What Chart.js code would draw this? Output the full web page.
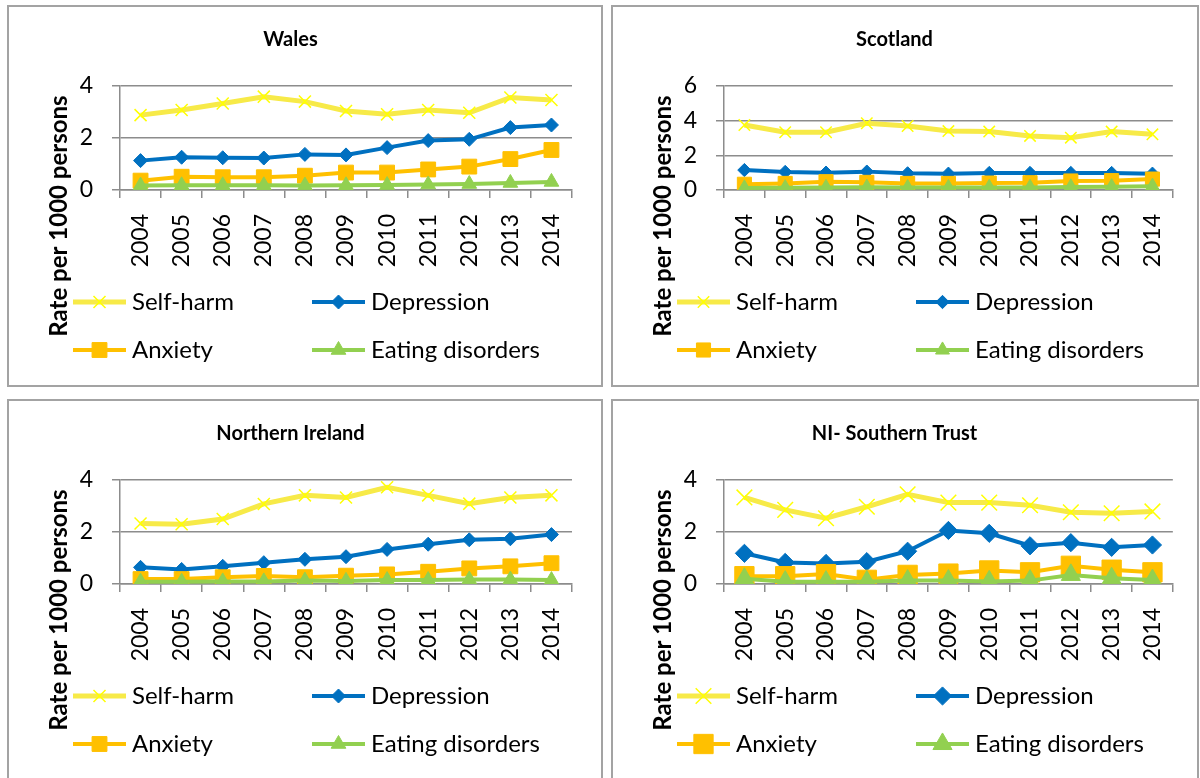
<!DOCTYPE html>
<html>
<head>
<meta charset="utf-8">
<script src="https://cdn.jsdelivr.net/npm/chart.js@4.4.0/dist/chart.umd.min.js"></script>
<style>
    html, body { margin: 0; padding: 0; background: #fff; overflow: hidden; }
    body { width: 1200px; height: 778px; position: relative; }
    .panel { position: absolute; border: 2px solid #a3a3a3; background: #fff; }
    .panel canvas { display: block; }
</style>
</head>
<body>
<div class="panel" style="left:7px; top:5px;"><canvas id="wales" width="592" height="378"></canvas></div>
<div class="panel" style="left:611px; top:5px;"><canvas id="scotland" width="584" height="378"></canvas></div>
<div class="panel" style="left:7px; top:399px;"><canvas id="ni" width="592" height="378"></canvas></div>
<div class="panel" style="left:611px; top:399px;"><canvas id="southern" width="584" height="378"></canvas></div>

<script>
// values, rate per 1000 persons
const years = ['2004', '2005', '2006', '2007', '2008', '2009', '2010', '2011', '2012', '2013', '2014'];
const seriesNames = ['Self-harm', 'Depression', 'Anxiety', 'Eating disorders'];

const walesSelfHarm = [2.88, 3.08, 3.33, 3.59, 3.40, 3.04, 2.91, 3.08, 2.97, 3.56, 3.46];
const walesDepression = [1.13, 1.26, 1.24, 1.23, 1.37, 1.35, 1.63, 1.90, 1.95, 2.40, 2.50];
const walesAnxiety = [0.36, 0.51, 0.49, 0.49, 0.55, 0.67, 0.67, 0.79, 0.90, 1.19, 1.54];
const walesEating = [0.17, 0.18, 0.18, 0.18, 0.17, 0.18, 0.19, 0.21, 0.23, 0.27, 0.31];

const scotlandSelfHarm = [3.75, 3.33, 3.33, 3.85, 3.69, 3.40, 3.37, 3.12, 3.02, 3.37, 3.21];
const scotlandDepression = [1.15, 1.04, 1.00, 1.06, 0.96, 0.94, 0.98, 0.98, 0.98, 0.98, 0.94];
const scotlandAnxiety = [0.33, 0.38, 0.48, 0.44, 0.38, 0.38, 0.40, 0.42, 0.52, 0.54, 0.63];
const scotlandEating = [0.12, 0.13, 0.15, 0.16, 0.14, 0.14, 0.15, 0.15, 0.18, 0.19, 0.22];

const niSelfHarm = [2.33, 2.30, 2.50, 3.08, 3.41, 3.33, 3.72, 3.41, 3.09, 3.33, 3.41];
const niDepression = [0.64, 0.56, 0.68, 0.82, 0.95, 1.05, 1.33, 1.53, 1.70, 1.74, 1.90];
const niAnxiety = [0.19, 0.19, 0.26, 0.31, 0.26, 0.32, 0.37, 0.47, 0.60, 0.68, 0.80];
const niEating = [0.09, 0.09, 0.10, 0.10, 0.13, 0.12, 0.15, 0.15, 0.17, 0.17, 0.15];

const southernSelfHarm = [3.33, 2.85, 2.53, 2.97, 3.45, 3.13, 3.13, 3.03, 2.76, 2.72, 2.79];
const southernDepression = [1.18, 0.83, 0.79, 0.86, 1.26, 2.06, 1.95, 1.47, 1.59, 1.41, 1.50];
const southernAnxiety = [0.30, 0.30, 0.38, 0.16, 0.35, 0.40, 0.52, 0.45, 0.70, 0.55, 0.45];
const southernEating = [0.20, 0.09, 0.09, 0.09, 0.13, 0.13, 0.10, 0.13, 0.35, 0.22, 0.15];

const yTitle = 'Rate per 1000 persons';

// styling
const FONT = 'Lato, "Open Sans", sans-serif';
const GRID = '#8c8c8c';
const lineColors = ['#f7ea48', '#0070c0', '#ffc000', '#92d050'];
const markerColors = ['#ffff00', '#0070c0', '#ffc000', '#92d050'];
const markerStyles = ['crossRot', 'rectRot', 'rect', 'triangle'];
const markerRadius = [8.5, 7, 10.5, 8.5];
const lineWidths = [5, 4, 4, 4];

// legend drawn as line + marker samples in two columns, like the spreadsheet
const sampleLegend = {
    id: 'sampleLegend',
    afterDraw(chart) {
        const ctx = chart.ctx;
        const cols = [64, 303];
        const rows = [295, 343];
        ctx.save();
        chart.data.datasets.forEach((ds, i) => {
            const x = cols[i % 2];
            const y = rows[Math.floor(i / 2)];
            ctx.strokeStyle = ds.borderColor;
            ctx.lineWidth = ds.borderWidth;
            ctx.beginPath();
            ctx.moveTo(x, y);
            ctx.lineTo(x + 53, y);
            ctx.stroke();

            ctx.fillStyle = ds.pointBackgroundColor;
            ctx.strokeStyle = ds.pointBorderColor;
            ctx.lineWidth = ds.pointBorderWidth;
            Chart.helpers.drawPoint(ctx, {
                pointStyle: ds.pointStyle,
                radius: ds.pointRadius,
                rotation: 0,
                borderWidth: ds.pointBorderWidth
            }, x + 26.5, y);

            ctx.fillStyle = '#000';
            ctx.font = '24px ' + FONT;
            ctx.textAlign = 'left';
            ctx.textBaseline = 'middle';
            ctx.fillText(ds.label, x + 59, y);
        });

        // y axis title, centred over plot + legend like the original
        ctx.translate(50, 209);
        ctx.rotate(-Math.PI / 2);
        ctx.font = 'bold 24px ' + FONT;
        ctx.textAlign = 'center';
        ctx.textBaseline = 'middle';
        ctx.fillStyle = '#000';
        ctx.fillText(yTitle, 0, 0);
        ctx.restore();
    }
};

function makeChart(id, title, yMax, series, markerScale) {
    const canvas = document.getElementById(id);
    const plotLeft = 111;
    const plotRight = 563;
    const plotBottom = 183;
    const xAxisHeight = 95;

    const datasets = series.map((values, i) => ({
        label: seriesNames[i],
        data: values,
        borderColor: lineColors[i],
        borderWidth: lineWidths[i],
        backgroundColor: markerColors[i],
        pointStyle: markerStyles[i],
        pointRadius: markerRadius[i] * markerScale,
        pointBackgroundColor: markerColors[i],
        pointBorderColor: markerColors[i],
        pointBorderWidth: i === 0 ? 1.5 : 1,
        tension: 0,
        order: 3 - i
    }));

    return new Chart(canvas, {
        type: 'line',
        data: { labels: years, datasets: datasets },
        options: {
            responsive: false,
            animation: false,
            events: [],
            layout: {
                padding: {
                    left: 0,
                    right: canvas.width - plotRight,
                    top: 0,
                    bottom: canvas.height - plotBottom - xAxisHeight
                }
            },
            plugins: {
                legend: { display: false },
                tooltip: { enabled: false },
                title: {
                    display: true,
                    text: title,
                    color: '#000',
                    font: { family: FONT, size: 20, weight: 'bold' },
                    padding: { top: 21, bottom: 34 }
                }
            },
            scales: {
                x: {
                    offset: true,
                    afterFit: s => { s.height = xAxisHeight; },
                    grid: {
                        display: true,
                        drawOnChartArea: false,
                        drawTicks: true,
                        tickLength: 8,
                        offset: true,
                        color: GRID,
                        lineWidth: 1.5
                    },
                    border: { display: true, color: GRID, width: 1.5 },
                    ticks: {
                        autoSkip: false,
                        minRotation: 90,
                        maxRotation: 90,
                        padding: 16,
                        color: '#000',
                        font: { family: FONT, size: 23 }
                    }
                },
                y: {
                    min: 0,
                    max: yMax,
                    afterFit: s => { s.width = plotLeft; },
                    grid: {
                        color: GRID,
                        lineWidth: 1.5,
                        drawTicks: true,
                        tickLength: 8
                    },
                    border: { display: true, color: GRID, width: 1.5 },
                    ticks: {
                        stepSize: 2,
                        padding: 19,
                        color: '#000',
                        font: { family: FONT, size: 23 }
                    }
                }
            }
        },
        plugins: [sampleLegend]
    });
}

makeChart('wales', 'Wales', 4,
    [walesSelfHarm, walesDepression, walesAnxiety, walesEating], 1);
makeChart('scotland', 'Scotland', 6,
    [scotlandSelfHarm, scotlandDepression, scotlandAnxiety, scotlandEating], 0.95);
makeChart('ni', 'Northern Ireland', 4,
    [niSelfHarm, niDepression, niAnxiety, niEating], 1);
makeChart('southern', 'NI- Southern Trust', 4,
    [southernSelfHarm, southernDepression, southernAnxiety, southernEating], 1.3);
</script>
</body>
</html>
